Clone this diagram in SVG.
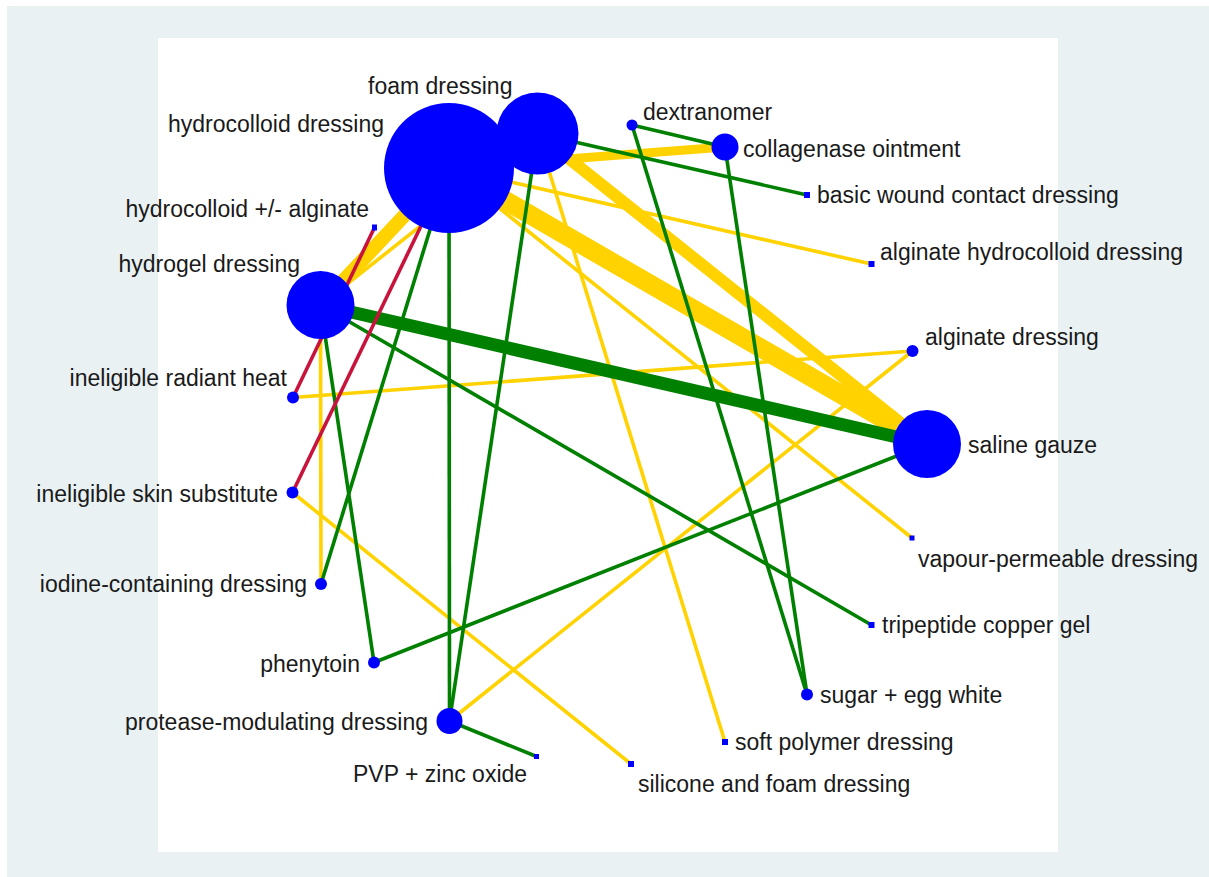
<svg xmlns="http://www.w3.org/2000/svg" width="1209" height="877" viewBox="0 0 1209 877">
<style>
.y{stroke:#FFD200;fill:none}
.g{stroke:#008000;fill:none}
.r{stroke:#C8143C;fill:none}
.t{stroke-width:3.6}
.n{fill:#0000FF}
text{font-family:"Liberation Sans",Arial,sans-serif;font-size:23px;fill:#1a1a1a}
</style>
<rect x="0" y="0" width="1209" height="877" fill="#ffffff"/>
<rect x="7" y="6" width="1202" height="871" fill="#e9f1f3"/>
<rect x="158" y="38" width="900" height="814" fill="#ffffff"/>
<g id="connectors">
<line class="y" x1="449" y1="168" x2="927" y2="444" stroke-width="19"/>
<line class="y" x1="537.5" y1="133.5" x2="927" y2="444" stroke-width="12"/>
<line class="y" x1="449" y1="168" x2="320.5" y2="305" stroke-width="14"/>
<line class="y" x1="449" y1="168" x2="725" y2="147" stroke-width="9"/>
<line class="y t" x1="449" y1="168" x2="871.5" y2="264"/>
<line class="y t" x1="449" y1="168" x2="912" y2="538"/>
<line class="y t" x1="537.5" y1="133.5" x2="725" y2="742"/>
<line class="y t" x1="320.5" y1="305" x2="537.5" y2="133.5"/>
<line class="y t" x1="320.5" y1="305" x2="321" y2="584"/>
<line class="y t" x1="293" y1="397.5" x2="912.5" y2="351"/>
<line class="y t" x1="292.5" y1="492.5" x2="631" y2="764"/>
<line class="y t" x1="449.5" y1="721" x2="912.5" y2="351"/>
<line class="g" x1="320.5" y1="305" x2="927" y2="444" stroke-width="13"/>
<line class="g t" x1="537.5" y1="133.5" x2="807" y2="195"/>
<line class="g t" x1="632" y1="125" x2="725" y2="147"/>
<line class="g t" x1="632" y1="125" x2="807" y2="694.5"/>
<line class="g t" x1="725" y1="147" x2="807" y2="694.5"/>
<line class="g t" x1="537.5" y1="133.5" x2="449.5" y2="721"/>
<line class="g t" x1="449" y1="168" x2="449.5" y2="721"/>
<line class="g t" x1="449" y1="168" x2="321" y2="584"/>
<line class="g t" x1="320.5" y1="305" x2="374" y2="662.5"/>
<line class="g t" x1="320.5" y1="305" x2="871.5" y2="625"/>
<line class="g t" x1="449.5" y1="721" x2="536.5" y2="756.5"/>
<line class="g t" x1="374" y1="662.5" x2="927" y2="444"/>
<line class="r t" x1="293" y1="397.5" x2="374.5" y2="227.5"/>
<line class="r t" x1="292.5" y1="492.5" x2="449" y2="168"/>
</g>
<g id="n-hydrocolloid"><circle class="n" cx="449" cy="168" r="65"/><text x="168" y="132">hydrocolloid dressing</text></g>
<g id="n-foam"><circle class="n" cx="537.5" cy="133.5" r="41"/><text x="368" y="94">foam dressing</text></g>
<g id="n-hydrogel"><circle class="n" cx="320.5" cy="305" r="34"/><text x="300" y="272" text-anchor="end">hydrogel dressing</text></g>
<g id="n-saline"><circle class="n" cx="927" cy="444" r="34"/><text x="968" y="453">saline gauze</text></g>
<g id="n-collagenase"><circle class="n" cx="725" cy="147" r="13.5"/><text x="743" y="157">collagenase ointment</text></g>
<g id="n-dextranomer"><circle class="n" cx="632" cy="125" r="5.5"/><text x="643" y="120">dextranomer</text></g>
<g id="n-basic"><rect class="n" x="804" y="192" width="6" height="6"/><text x="817" y="203">basic wound contact dressing</text></g>
<g id="n-alghydro"><rect class="n" x="868.5" y="261" width="6" height="6"/><text x="880" y="260">alginate hydrocolloid dressing</text></g>
<g id="n-alginate"><circle class="n" cx="912.5" cy="351" r="6"/><text x="925" y="345">alginate dressing</text></g>
<g id="n-vapour"><rect class="n" x="909.5" y="535.5" width="5" height="5"/><text x="918" y="567">vapour-permeable dressing</text></g>
<g id="n-tripeptide"><rect class="n" x="868.5" y="622" width="6" height="6"/><text x="882" y="633">tripeptide copper gel</text></g>
<g id="n-sugar"><circle class="n" cx="807" cy="694.5" r="6"/><text x="820" y="703">sugar + egg white</text></g>
<g id="n-softpoly"><rect class="n" x="722" y="739" width="6" height="6"/><text x="735" y="750">soft polymer dressing</text></g>
<g id="n-silicone"><rect class="n" x="628" y="761" width="6" height="6"/><text x="638" y="792">silicone and foam dressing</text></g>
<g id="n-pvp"><rect class="n" x="534" y="754" width="5" height="5"/><text x="353" y="782">PVP + zinc oxide</text></g>
<g id="n-protease"><circle class="n" cx="449.5" cy="721" r="13"/><text x="428" y="730" text-anchor="end">protease-modulating dressing</text></g>
<g id="n-phenytoin"><circle class="n" cx="374" cy="662.5" r="6"/><text x="360" y="672" text-anchor="end">phenytoin</text></g>
<g id="n-iodine"><circle class="n" cx="321" cy="584" r="6"/><text x="307" y="592" text-anchor="end">iodine-containing dressing</text></g>
<g id="n-skinsub"><circle class="n" cx="292.5" cy="492.5" r="6"/><text x="278" y="502" text-anchor="end">ineligible skin substitute</text></g>
<g id="n-radiant"><circle class="n" cx="293" cy="397.5" r="6"/><text x="287" y="386" text-anchor="end">ineligible radiant heat</text></g>
<g id="n-hcalg"><rect class="n" x="372" y="224.5" width="5" height="6"/><text x="369" y="217" text-anchor="end">hydrocolloid +/- alginate</text></g>
</svg>
